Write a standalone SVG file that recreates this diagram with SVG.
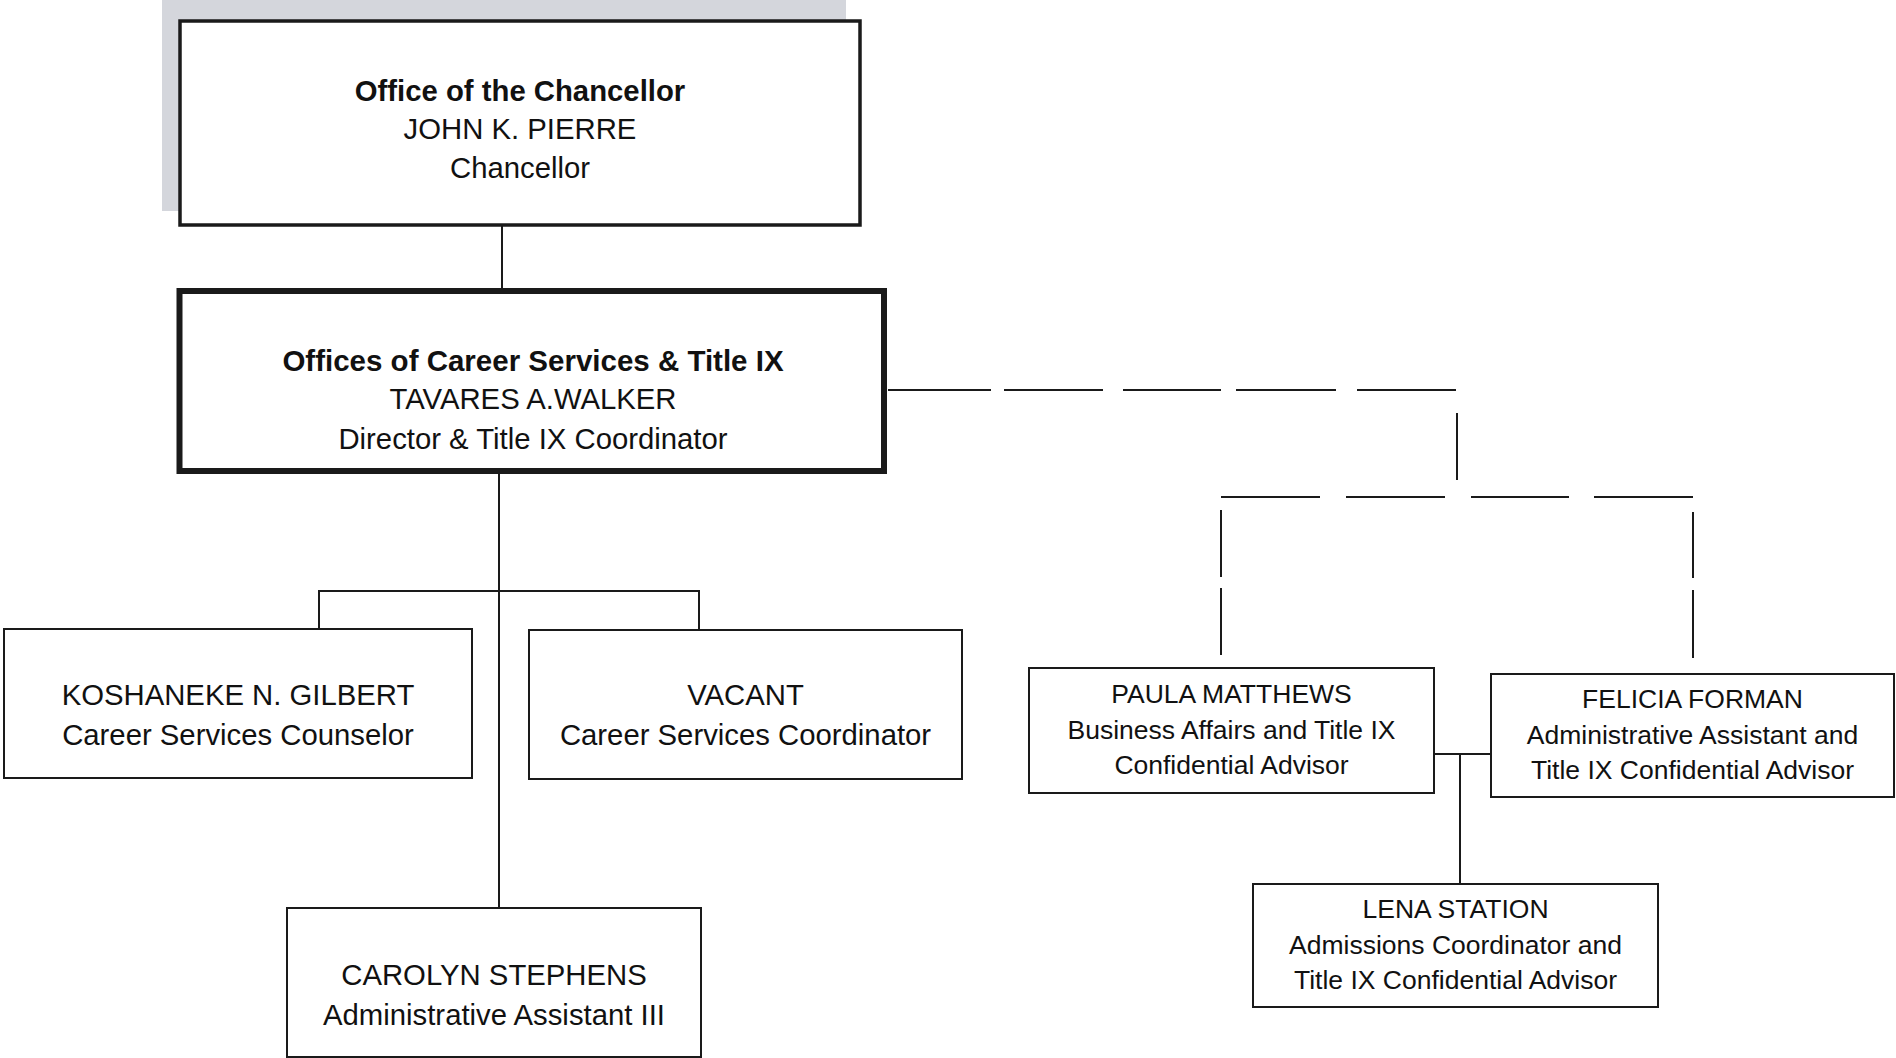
<svg xmlns="http://www.w3.org/2000/svg" width="1896" height="1058" viewBox="0 0 1896 1058">
<style>
.box{fill:#fff;stroke:#1a1a1a;stroke-width:2}
.t{font-family:"Liberation Sans",Arial,sans-serif;fill:#111;text-anchor:middle}
.l{font-size:29.3px}
.s{font-size:26.5px}
.b{font-weight:bold}
.c{fill:none;stroke:#1a1a1a;stroke-width:2}
</style>
<rect x="0" y="0" width="1896" height="1058" fill="#fff"/>
<rect x="162" y="0" width="684" height="211" fill="#d4d6dc"/>
<g id="connectors">
<path class="c" d="M502 226V289"/>
<path class="c" d="M499 474V907M319 629V591H699V629"/>
<path class="c" d="M888 390H991M1004 390H1103M1123 390H1221M1236 390H1336M1357 390H1456M1457 413V480"/>
<path class="c" d="M1221 497H1320M1346 497H1445M1471 497H1569M1594 497H1693M1221 510V577M1221 588V655M1693 512V578M1693 590V658"/>
<path class="c" d="M1435 754H1490M1460 754V884"/>
</g>
<g id="chancellor">
<rect x="180" y="21" width="680" height="204" fill="#fff" stroke="#1a1a1a" stroke-width="3.5"/>
<text class="t l b" x="520" y="100.5">Office of the Chancellor</text>
<text class="t l" x="520" y="139">JOHN K. PIERRE</text>
<text class="t l" x="520" y="178">Chancellor</text>
</g>
<g id="director">
<rect x="179.5" y="291" width="704.5" height="180" fill="#fff" stroke="#1a1a1a" stroke-width="6"/>
<text class="t b" style="font-size:29.5px" x="533" y="371">Offices of Career Services &amp; Title IX</text>
<text class="t l" x="533" y="409">TAVARES A.WALKER</text>
<text class="t l" x="533" y="448.5">Director &amp; Title IX Coordinator</text>
</g>
<g id="gilbert">
<rect class="box" x="4" y="629" width="468" height="149"/>
<text class="t l" x="238" y="704.5">KOSHANEKE N. GILBERT</text>
<text class="t l" x="238" y="744.5">Career Services Counselor</text>
</g>
<g id="vacant">
<rect class="box" x="529" y="630" width="433" height="149"/>
<text class="t l" x="745.5" y="704.5">VACANT</text>
<text class="t l" x="745.5" y="744.5">Career Services Coordinator</text>
</g>
<g id="stephens">
<rect class="box" x="287" y="908" width="414" height="149"/>
<text class="t l" x="494" y="985">CAROLYN STEPHENS</text>
<text class="t l" x="494" y="1025">Administrative Assistant III</text>
</g>
<g id="matthews">
<rect class="box" x="1029" y="668" width="405" height="125"/>
<text class="t s" x="1231.5" y="703">PAULA MATTHEWS</text>
<text class="t s" x="1231.5" y="738.5">Business Affairs and Title IX</text>
<text class="t s" x="1231.5" y="774">Confidential Advisor</text>
</g>
<g id="forman">
<rect class="box" x="1491" y="674" width="403" height="123"/>
<text class="t s" x="1692.5" y="708">FELICIA FORMAN</text>
<text class="t s" x="1692.5" y="743.5">Administrative Assistant and</text>
<text class="t s" x="1692.5" y="778.5">Title IX Confidential Advisor</text>
</g>
<g id="station">
<rect class="box" x="1253" y="884" width="405" height="123"/>
<text class="t s" x="1455.5" y="917.5">LENA STATION</text>
<text class="t s" x="1455.5" y="953.5">Admissions Coordinator and</text>
<text class="t s" x="1455.5" y="988.5">Title IX Confidential Advisor</text>
</g>
</svg>
